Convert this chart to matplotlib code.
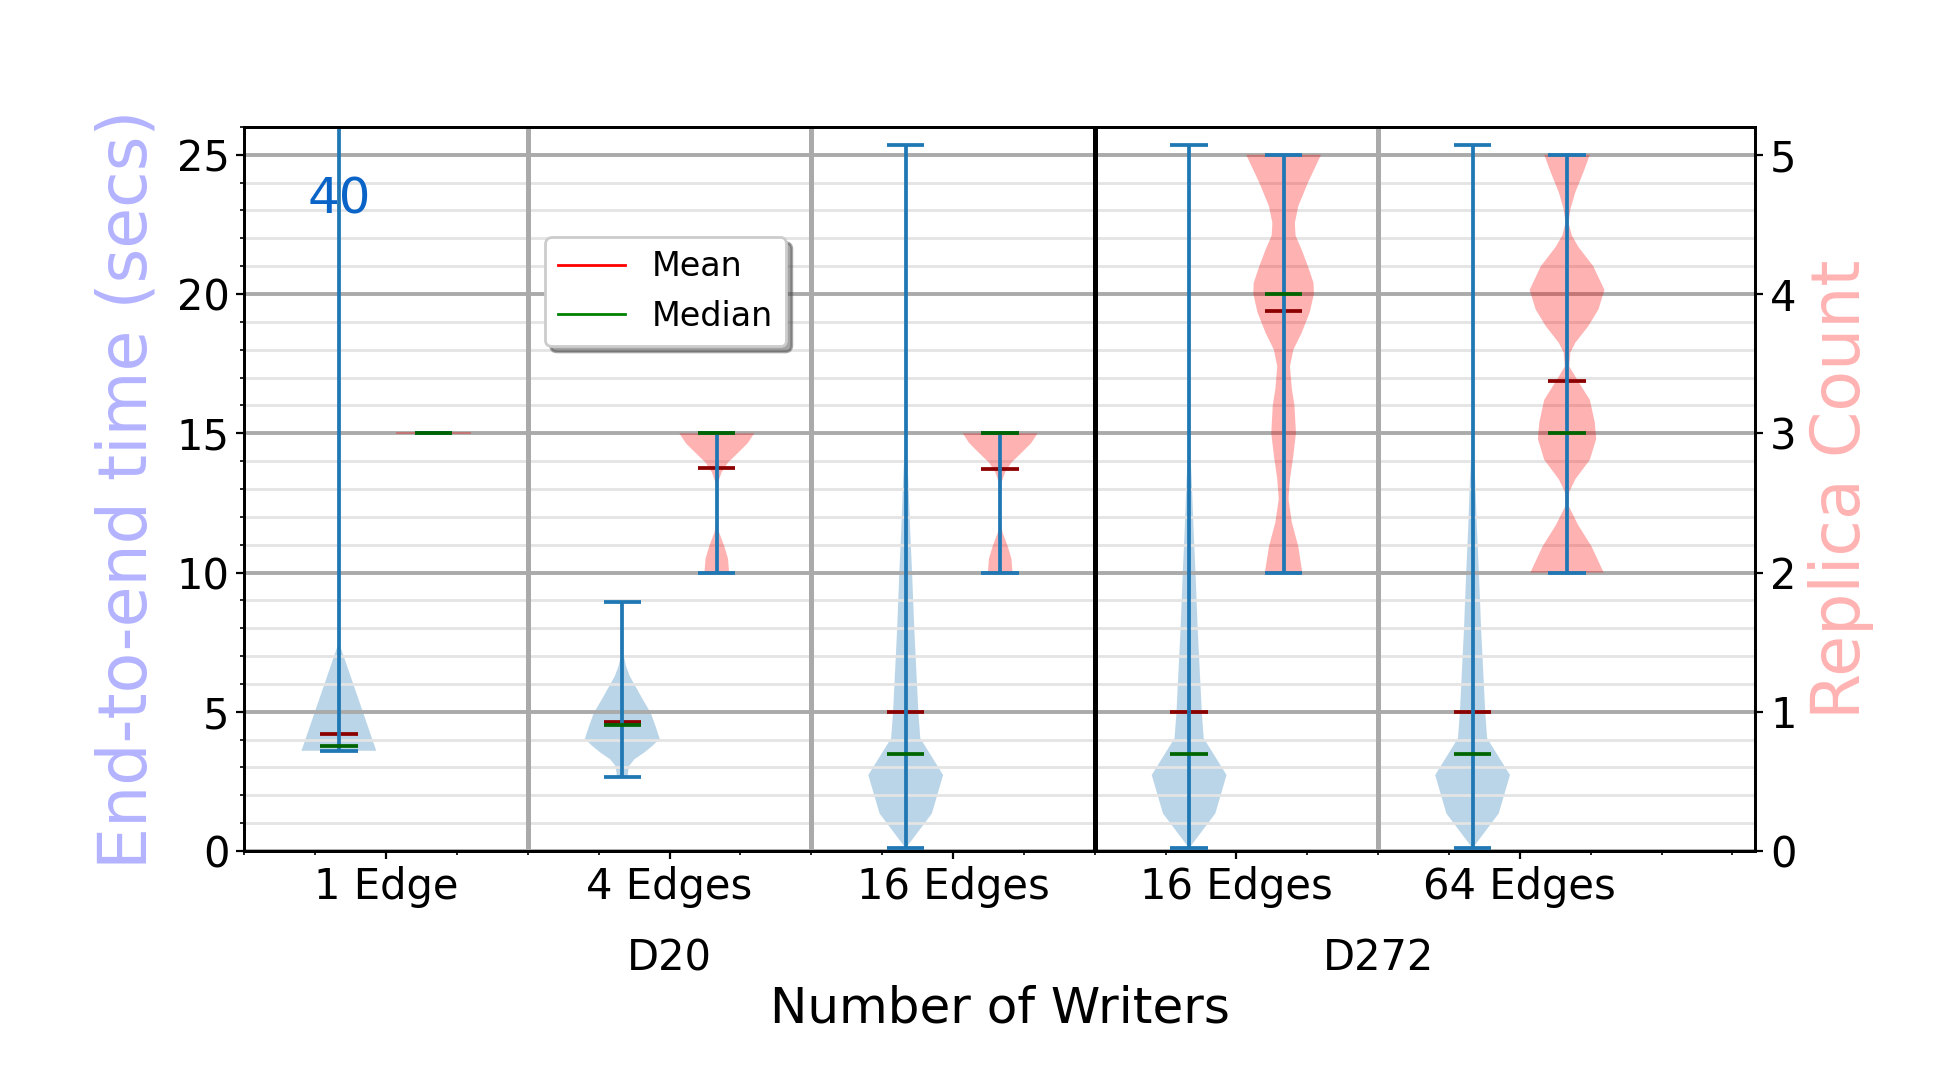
import numpy as np
import matplotlib
matplotlib.use('Agg')
import matplotlib.pyplot as plt
from matplotlib.lines import Line2D
from matplotlib.ticker import MultipleLocator, FixedLocator
import matplotlib.transforms as mtransforms

# ---------------- data ----------------
categories = ['1 Edge', '4 Edges', '16 Edges', '16 Edges', '64 Edges']
dataset_names = ['D20', 'D272']
dataset_centers = [1.0, 3.5]      # centre of each dataset's group of categories
group_separators = [0.5, 1.5, 3.5]
dataset_separator = 2.5

# End-to-end time (secs): density profiles (y value, relative width)
time_1edge_y = [3.6, 7.5, 40.0]
time_1edge_w = [1.0, 0.0, 0.0]
time_4edges_y = [2.67, 3.05, 3.29, 3.53, 3.77, 4.03, 4.48, 4.96, 5.44, 5.80, 6.28, 6.64, 7.0, 7.36, 8.96]
time_4edges_w = [0.14, 0.18, 0.32, 0.58, 0.80, 1.00, 0.89, 0.76, 0.55, 0.40, 0.20, 0.10, 0.04, 0.015, 0.0]
time_16edges_y = [0.1, 1.35, 2.73, 4.05, 4.95, 7.95, 10.0, 11.5, 13.3, 14.5, 16.0, 25.36]
time_16edges_w = [0.0, 0.70, 1.00, 0.39, 0.34, 0.23, 0.17, 0.12, 0.07, 0.025, 0.0, 0.0]

time_profiles_y = [time_1edge_y, time_4edges_y, time_16edges_y, time_16edges_y, time_16edges_y]
time_profiles_w = [time_1edge_w, time_4edges_w, time_16edges_w, time_16edges_w, time_16edges_w]
time_mean = [4.22, 4.63, 5.01, 5.01, 5.01]
time_median = [3.77, 4.53, 3.48, 3.48, 3.48]
time_min = [3.6, 2.67, 0.1, 0.1, 0.1]
time_max = [40.0, 8.96, 25.36, 25.36, 25.36]
time_clipped_label = '40'

# Replica count: density profiles
rep_1edge_y = [2.994, 3.006]
rep_1edge_w = [1.0, 1.0]
rep_d20_y = [2.0, 2.1, 2.19, 2.29, 2.38, 2.57, 2.65, 2.72, 2.79, 2.86, 2.93, 3.0]
rep_d20_w = [0.33, 0.30, 0.20, 0.06, 0.01, 0.01, 0.04, 0.13, 0.30, 0.57, 0.83, 1.0]
rep_d272_16_y = [2.0, 2.19, 2.36, 2.53, 2.67, 2.84, 3.0, 3.2, 3.32, 3.48, 3.6, 3.72, 3.87,
                 4.0, 4.08, 4.2, 4.32, 4.42, 4.51, 4.63, 4.8, 5.0]
rep_d272_16_w = [0.50, 0.39, 0.22, 0.13, 0.17, 0.26, 0.33, 0.29, 0.22, 0.17, 0.26, 0.48, 0.70,
                 0.81, 0.80, 0.65, 0.48, 0.32, 0.30, 0.39, 0.65, 1.0]
rep_d272_64_y = [2.0, 2.19, 2.34, 2.48, 2.58, 2.67, 2.81, 2.96, 3.08, 3.24, 3.39, 3.48, 3.58,
                 3.65, 3.77, 3.89, 4.03, 4.2, 4.34, 4.42, 4.51, 4.61, 4.73, 4.87, 5.0]
rep_d272_64_w = [0.98, 0.65, 0.30, 0.04, 0.06, 0.22, 0.61, 0.78, 0.74, 0.61, 0.26, 0.06, 0.09,
                 0.22, 0.57, 0.84, 1.00, 0.70, 0.30, 0.13, 0.04, 0.09, 0.22, 0.43, 0.61]

rep_profiles_y = [rep_1edge_y, rep_d20_y, rep_d20_y, rep_d272_16_y, rep_d272_64_y]
rep_profiles_w = [rep_1edge_w, rep_d20_w, rep_d20_w, rep_d272_16_w, rep_d272_64_w]
rep_mean = [3.0, 2.75, 2.74, 3.876, 3.375]
rep_median = [3.0, 3.0, 3.0, 4.0, 3.0]
rep_min = [3.0, 2.0, 2.0, 2.0, 2.0]
rep_max = [3.0, 3.0, 3.0, 5.0, 5.0]

# ---------------- figure ----------------
fig = plt.figure(figsize=(9.76, 5.325), dpi=200)
ax = fig.add_axes([0.1252, 0.2009, 0.7739, 0.6799])
ax2 = ax.twinx()

n = len(categories)
centers = np.arange(n)
offset = 1.0 / 6.0
vwidth = 0.264
vlw = 1.35


def make_stats(ys, ws, means, medians, mins, maxs):
    out = []
    for y, w, me, md, mn, mx in zip(ys, ws, means, medians, mins, maxs):
        out.append(dict(coords=np.array(y, float), vals=np.array(w, float),
                        mean=me, median=md, min=mn, max=mx))
    return out


def style(parts, body_color):
    for b in parts['bodies']:
        b.set_facecolor(body_color)
        b.set_edgecolor('none')
        b.set_alpha(0.3)
    for k in ('cbars', 'cmins', 'cmaxes'):
        parts[k].set_color('#1f77b4')
        parts[k].set_linewidth(vlw)
    parts['cmeans'].set_color('darkred')
    parts['cmeans'].set_linewidth(vlw)
    parts['cmedians'].set_color('darkgreen')
    parts['cmedians'].set_linewidth(vlw)


time_stats = make_stats(time_profiles_y, time_profiles_w, time_mean, time_median, time_min, time_max)
rep_stats = make_stats(rep_profiles_y, rep_profiles_w, rep_mean, rep_median, rep_min, rep_max)

p1 = ax.violin(time_stats, positions=centers - offset, widths=vwidth,
               showmeans=True, showextrema=True, showmedians=True)
style(p1, '#1f77b4')
p2 = ax2.violin(rep_stats, positions=centers + offset, widths=vwidth,
                showmeans=True, showextrema=True, showmedians=True)
style(p2, 'red')

# limits
ax.set_xlim(-0.5, 4.83)
ax.set_ylim(0, 26)
ax2.set_ylim(0, 5.2)

# grid & separators
ax.yaxis.set_major_locator(MultipleLocator(5))
ax.yaxis.set_minor_locator(MultipleLocator(1))
ax.yaxis.grid(True, which='major', color='#aaaaaa', lw=1.4)
ax.yaxis.grid(True, which='minor', color='#e4e4e4', lw=1.0)
for xs in group_separators:
    ax.axvline(xs, color='#aaaaaa', lw=1.8, zorder=1.6)
ax.axvline(dataset_separator, color='black', lw=1.8, zorder=1.6)

# ticks
ax.xaxis.set_major_locator(FixedLocator(centers))
ax.set_xticklabels(categories)
ax.xaxis.set_minor_locator(MultipleLocator(0.25))
ax.tick_params(axis='both', which='major', labelsize=15, length=2.8, pad=2.6)
ax.tick_params(axis='both', which='minor', length=1.6)
ax2.yaxis.set_major_locator(MultipleLocator(1))
ax2.tick_params(axis='y', which='major', labelsize=15, length=2.8, pad=2.6)
for a in (ax, ax2):
    for s in a.spines.values():
        s.set_linewidth(1.0)

# labels
ax.set_ylabel('End-to-end time (secs)', fontsize=24, color='#b3b3ff', labelpad=5.8)
ax2.set_ylabel('Replica Count', fontsize=24, color='#ffb3b3')
ax.set_xlabel('Number of Writers', fontsize=18)
ax.xaxis.set_label_coords(0.5, -0.217)
ax.xaxis.label.set_verticalalignment('center')

trans = mtransforms.blended_transform_factory(ax.transData, ax.transAxes)
for name, cx in zip(dataset_names, dataset_centers):
    ax.text(cx, -0.148, name, transform=trans, ha='center', va='center', fontsize=15)

# clipped max annotation
ax.text(centers[0] - offset, 23.4, time_clipped_label, color='#0a64c8', fontsize=18,
        ha='center', va='center')

# legend
handles = [Line2D([0], [0], color='red', lw=1.0), Line2D([0], [0], color='green', lw=1.0)]
ax2.legend(handles, ['Mean', 'Median'], loc='upper left', bbox_to_anchor=(0.199, 0.848),
           borderaxespad=0, fontsize=12, shadow=True)

fig.savefig('out.png', dpi=200)
